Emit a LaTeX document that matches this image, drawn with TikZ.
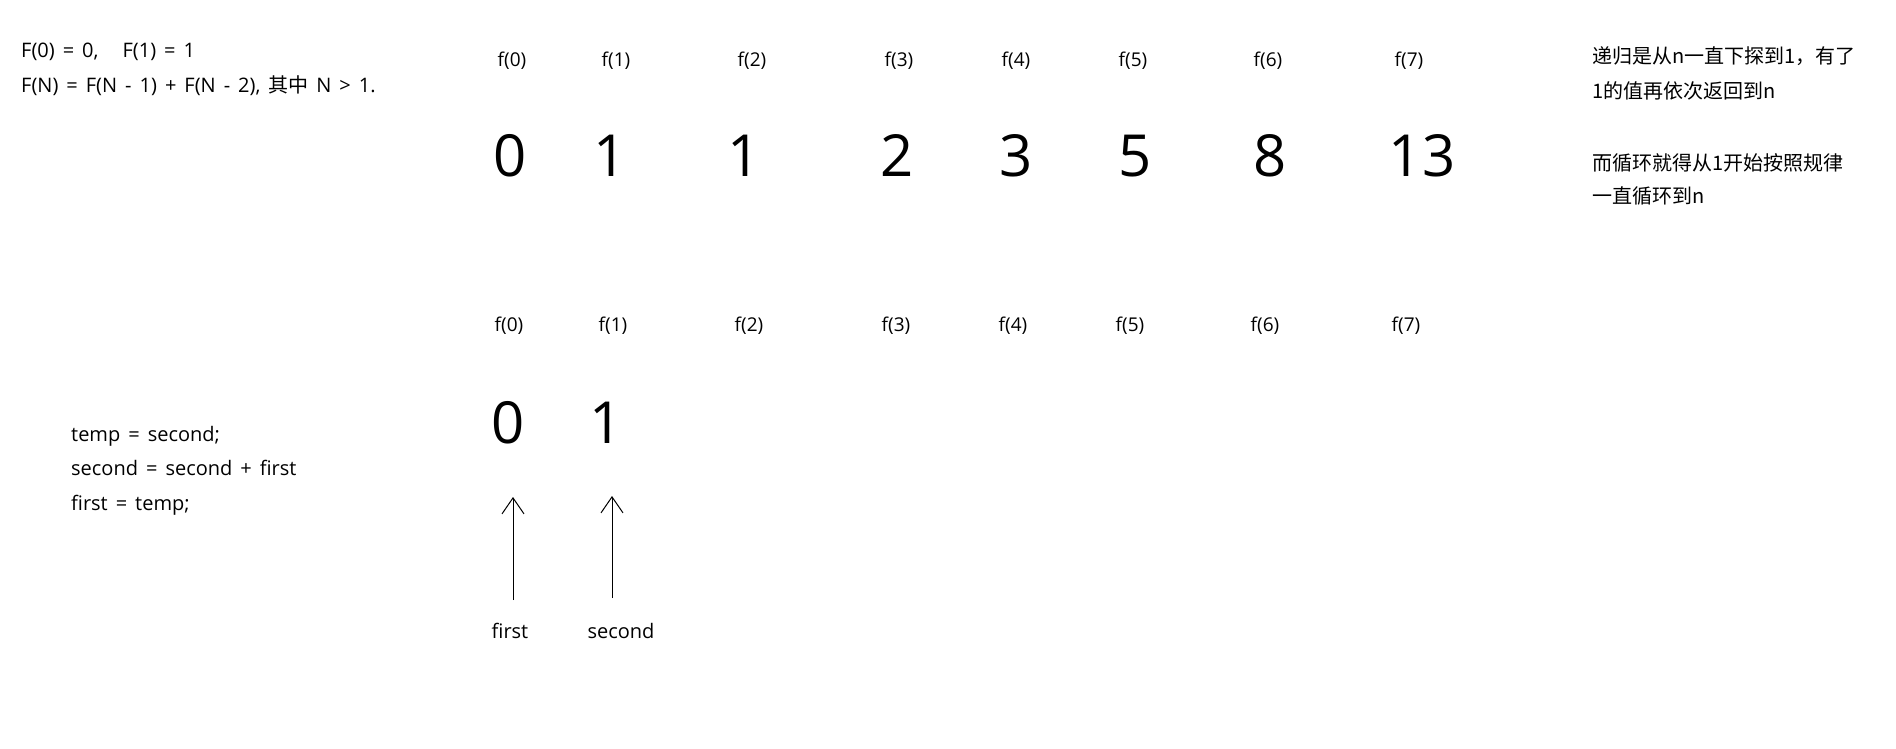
\documentclass[tikz,border=0pt]{standalone}
\usepackage{fontspec}
\setmainfont{Open Sans}
\newfontfamily\cjk{Noto Sans CJK SC}
\usetikzlibrary{arrows.meta}
\newcommand\widesp{\spaceskip=8pt plus 1pt\relax}
\begin{document}
\begin{tikzpicture}[x=1pt,y=-1pt,
  txt/.style={inner sep=0pt,anchor=base west,font=\fontsize{20}{22}\selectfont\widesp},
  note/.style={inner sep=0pt,anchor=base west,font=\cjk\fontsize{20}{22}\selectfont},
  flab/.style={inner sep=0pt,anchor=base,font=\fontsize{19}{22}\selectfont},
  ptr/.style={inner sep=0pt,anchor=base,font=\fontsize{20}{22}\selectfont},
  big/.style={inner sep=0pt,anchor=base,font=\fontsize{58}{60}\selectfont},
  arr/.style={line width=1pt,-{Straight Barb[length=16pt,width=22pt,line width=1pt]}}]
\useasboundingbox[fill=white] (0,0) rectangle (1896,749);
% formulas
\node[txt] (def1) at (21,58) {F(0) = 0,\hspace{24pt}F(1) = 1};
\node[txt] (def2) at (21,93) {F(N) = F(N - 1) + F(N - 2), {\cjk 其中} N > 1.};
% top row labels
\foreach \i/\x in {0/512,1/616,2/752,3/899,4/1016,5/1133,6/1268,7/1409}
  \node[flab] (t\i) at (\x,66.5) {f(\i)};
% top row values
\foreach \i/\x/\v in {0/510/0,1/610/1,2/744/1,3/897/2,4/1016/3,5/1135/5,6/1270/8,7/1422/13}
  \node[big] (v\i) at (\x,177) {\v};
% right notes
\node[note] (n1) at (1592,64) {递归是从n一直下探到1，有了};
\node[note] (n2) at (1592,99) {1的值再依次返回到n};
\node[note] (n3) at (1592,170.5) {而循环就得从1开始按照规律};
\node[note] (n4) at (1592,204) {一直循环到n};
% bottom row labels
\foreach \i/\x in {0/509,1/613,2/749,3/896,4/1013,5/1130,6/1265,7/1406}
  \node[flab] (b\i) at (\x,331.5) {f(\i)};
% bottom values
\node[big] (w0) at (508,443) {0};
\node[big] (w1) at (606,443) {1};
% code
\node[txt] (c1) at (71,441) {temp = second;};
\node[txt] (c2) at (71,475.5) {second = second + first};
\node[txt] (c3) at (71,510) {first = temp;};
% pointers
\node[ptr] (pf) at (510,638) {first};
\node[ptr] (ps) at (621,638) {second};
\coordinate (a1s) at (513,600);
\coordinate (a1e) at (513,497);
\coordinate (a2s) at (612,598);
\coordinate (a2e) at (612,496);
\draw[arr] (a1s) -- (a1e);
\draw[arr] (a2s) -- (a2e);
\end{tikzpicture}
\end{document}
